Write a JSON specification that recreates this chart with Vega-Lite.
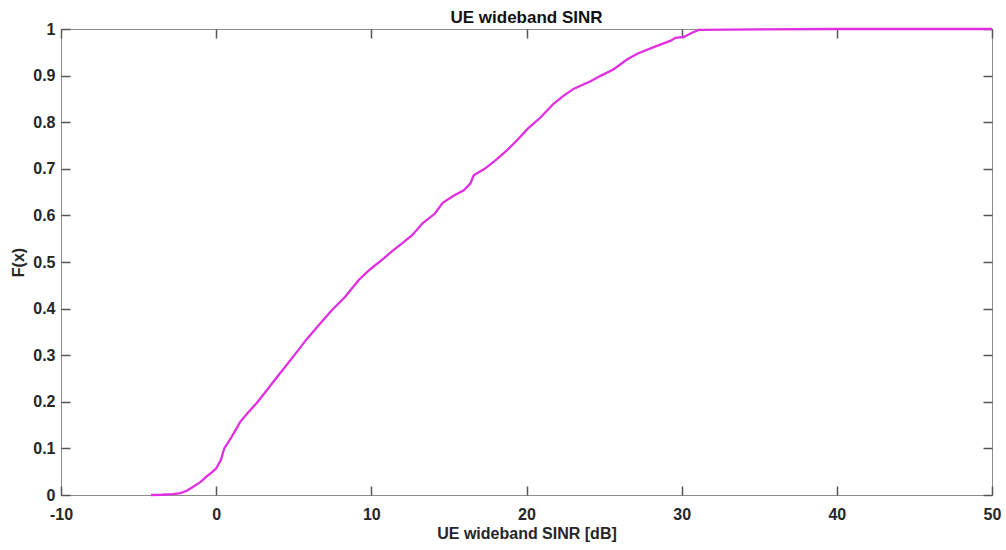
{
  "$schema": "https://vega.github.io/schema/vega-lite/v6.json",
  "width": 931,
  "height": 466,
  "autosize": "none",
  "padding": {"left": 61, "top": 29, "right": 14, "bottom": 55},
  "background": "white",
  "title": {
    "text": "UE wideband SINR",
    "font": "Liberation Sans",
    "fontSize": 17,
    "fontWeight": "bold",
    "color": "#111111",
    "anchor": "middle",
    "offset": -6
  },
  "config": {
    "view": {"stroke": "#8c8c8c", "strokeWidth": 1},
    "axis": {
      "grid": false,
      "domain": false,
      "ticks": true,
      "tickColor": "#555555",
      "tickWidth": 1.5,
      "tickSize": 9,
      "offset": -9,
      "zindex": 1,
      "labelFont": "Liberation Sans",
      "labelFontSize": 16,
      "labelFontWeight": "bold",
      "labelColor": "#262626",
      "titleFont": "Liberation Sans",
      "titleFontSize": 16,
      "titleFontWeight": "bold",
      "titleColor": "#262626"
    }
  },
  "data": {
    "values": [
      {"sinr": -4.2, "F": 0},
      {"sinr": -3.5, "F": 0.0005},
      {"sinr": -2.8, "F": 0.002},
      {"sinr": -2.3, "F": 0.004},
      {"sinr": -1.9, "F": 0.009},
      {"sinr": -1.5, "F": 0.017},
      {"sinr": -1.0, "F": 0.028},
      {"sinr": -0.65, "F": 0.039},
      {"sinr": -0.3, "F": 0.048},
      {"sinr": 0, "F": 0.057},
      {"sinr": 0.3, "F": 0.075},
      {"sinr": 0.52, "F": 0.1},
      {"sinr": 1.0, "F": 0.125},
      {"sinr": 1.55, "F": 0.157},
      {"sinr": 2.0, "F": 0.175},
      {"sinr": 2.6, "F": 0.197},
      {"sinr": 3.2, "F": 0.222},
      {"sinr": 3.8, "F": 0.248},
      {"sinr": 4.8, "F": 0.29},
      {"sinr": 5.85, "F": 0.335},
      {"sinr": 6.8, "F": 0.372},
      {"sinr": 7.5, "F": 0.398},
      {"sinr": 8.3, "F": 0.425},
      {"sinr": 9.2, "F": 0.462},
      {"sinr": 9.95, "F": 0.485},
      {"sinr": 10.8, "F": 0.508},
      {"sinr": 11.4, "F": 0.525},
      {"sinr": 11.9, "F": 0.538},
      {"sinr": 12.65, "F": 0.558},
      {"sinr": 13.3, "F": 0.583},
      {"sinr": 14.1, "F": 0.604},
      {"sinr": 14.6, "F": 0.627},
      {"sinr": 15.3, "F": 0.642},
      {"sinr": 15.96, "F": 0.654},
      {"sinr": 16.39, "F": 0.669},
      {"sinr": 16.6, "F": 0.686},
      {"sinr": 17.3, "F": 0.7},
      {"sinr": 18.0, "F": 0.718},
      {"sinr": 18.75, "F": 0.74},
      {"sinr": 19.5, "F": 0.765},
      {"sinr": 20.05, "F": 0.785},
      {"sinr": 20.9, "F": 0.81},
      {"sinr": 21.76, "F": 0.84},
      {"sinr": 22.4, "F": 0.857},
      {"sinr": 23.06, "F": 0.872},
      {"sinr": 24.13, "F": 0.888},
      {"sinr": 24.8, "F": 0.9},
      {"sinr": 25.6, "F": 0.913},
      {"sinr": 26.5, "F": 0.935},
      {"sinr": 27.14, "F": 0.947},
      {"sinr": 28.2, "F": 0.961},
      {"sinr": 29.3, "F": 0.975},
      {"sinr": 29.6, "F": 0.981},
      {"sinr": 30.15, "F": 0.983},
      {"sinr": 30.6, "F": 0.991},
      {"sinr": 31.1, "F": 0.998},
      {"sinr": 35, "F": 0.999},
      {"sinr": 40, "F": 1},
      {"sinr": 50, "F": 1}
    ]
  },
  "layer": [
    {
      "mark": {"type": "line", "color": "#e02ee0", "strokeWidth": 2.3},
      "encoding": {
        "x": {
          "field": "sinr", "type": "quantitative",
          "scale": {"domain": [-10, 50], "nice": false, "zero": false},
          "axis": {"title": "UE wideband SINR [dB]", "tickCount": 6, "labelExpr": "'' + datum.value", "labelPadding": 11, "titlePadding": 3, "labelFlush": false}
        },
        "y": {
          "field": "F", "type": "quantitative",
          "scale": {"domain": [0, 1], "nice": false},
          "axis": {"title": "F(x)", "tickCount": 10, "labelExpr": "'' + datum.value", "labelPadding": 6, "titlePadding": 6, "labelFlush": false}
        }
      }
    },
    {
      "mark": {"type": "line", "opacity": 0},
      "encoding": {
        "x": {
          "field": "sinr", "type": "quantitative",
          "axis": {"orient": "top", "title": null, "labels": false, "tickCount": 6}
        },
        "y": {
          "field": "F", "type": "quantitative",
          "axis": {"orient": "right", "title": null, "labels": false, "tickCount": 10}
        }
      }
    }
  ],
  "resolve": {"axis": {"x": "independent", "y": "independent"}}
}
